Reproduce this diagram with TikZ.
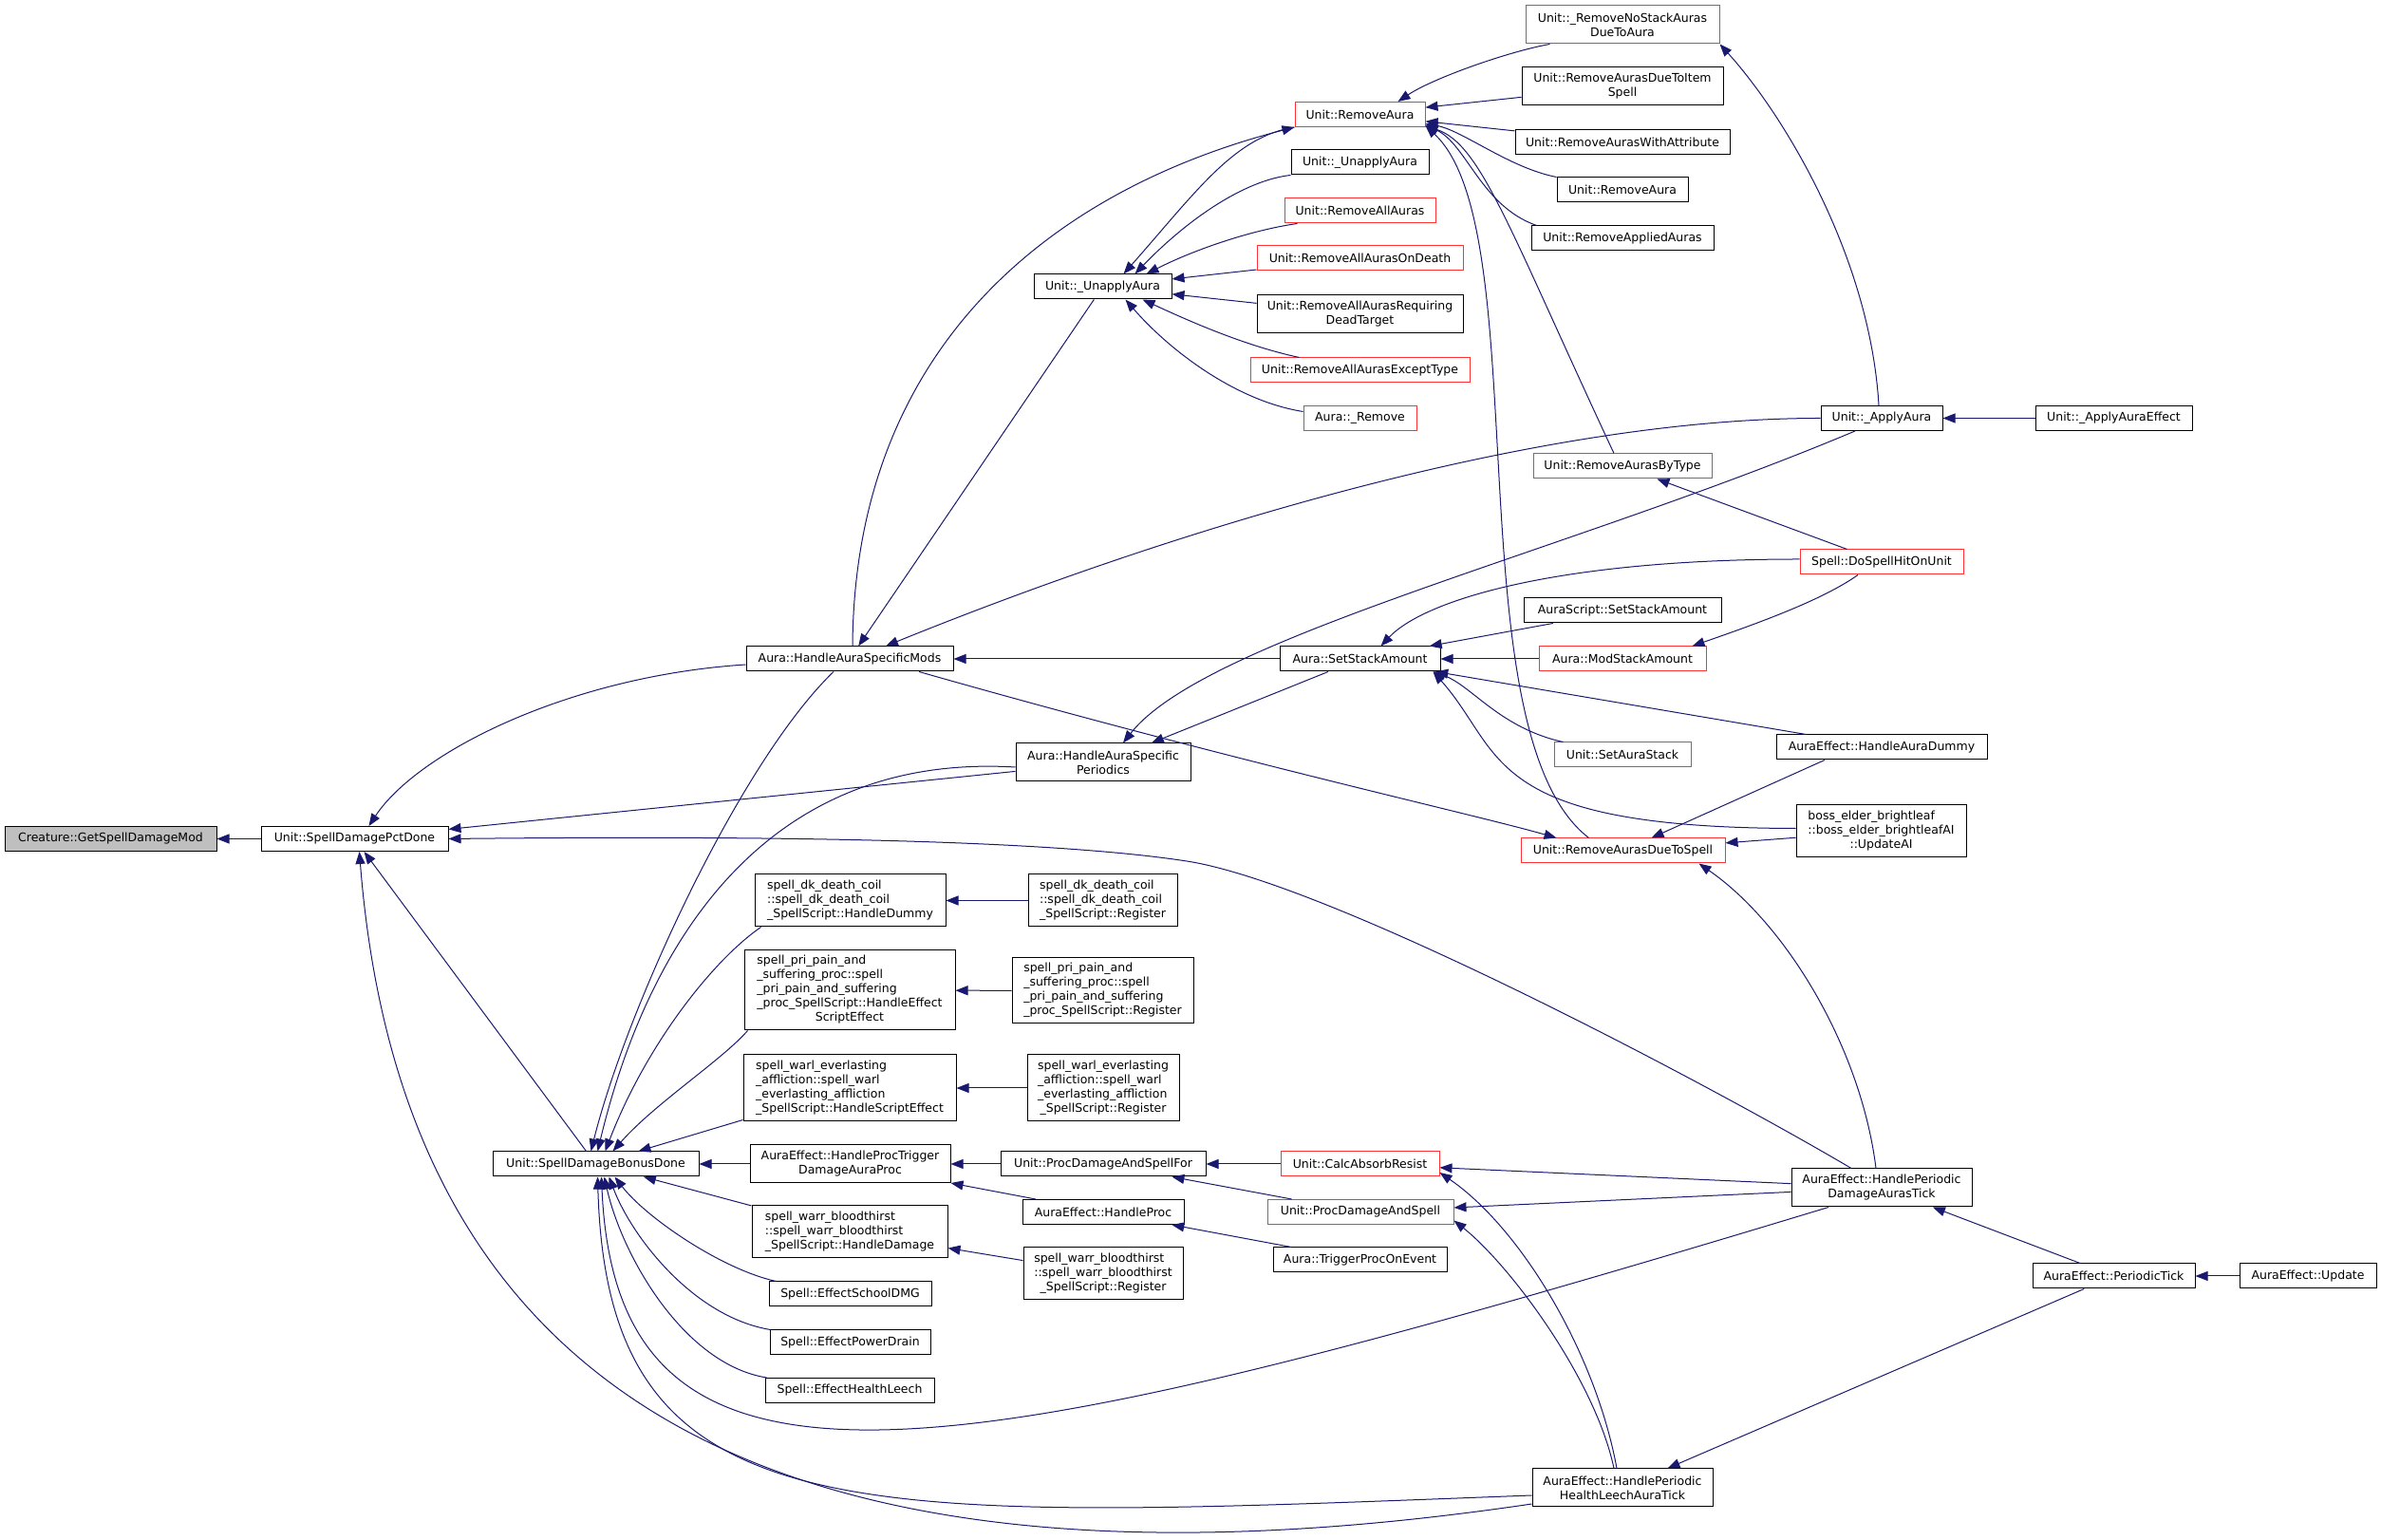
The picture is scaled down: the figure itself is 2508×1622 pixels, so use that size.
\documentclass[tikz,border=0pt]{standalone}
\usepackage{fontspec}
\setmainfont{DejaVu Sans}
\usetikzlibrary{arrows.meta}
\definecolor{edgeblue}{HTML}{191970}
\definecolor{truncred}{HTML}{FF3333}
\definecolor{startgray}{HTML}{BFBFBF}
\newcommand{\fnlines}[1]{\begin{tabular}{@{}l@{}}#1\end{tabular}}
\newcommand{\lastc}[1]{\multicolumn{1}{@{}c@{}}{#1}}

\begin{document}
\begin{tikzpicture}[x=1pt,y=1pt,<-,>={Triangle[length=13pt,width=10pt]},
    every edge/.style={draw=edgeblue,line width=1pt},
    call/.style={draw=edgeblue,line width=1pt},
    fn/.style={rectangle,draw=black,fill=white,line width=1pt,minimum height=26pt,
      inner sep=2pt,font=\fontsize{12.5}{15}\selectfont},
    trunc/.style={fn,draw=truncred},
    start/.style={fn,fill=startgray},
    two/.style={align=center,minimum height=40pt}]

\path[use as bounding box,fill=white,-] (0,0) rectangle (2508,1622);

\node[start,minimum width=223pt]   (crt)    at (116.5,738.5) {Creature::GetSpellDamageMod};
\node[fn,minimum width=197pt]      (pct)    at (373.5,738.5) {Unit::SpellDamagePctDone};
\node[fn,minimum width=217pt]      (bon)    at (627.5,396)   {Unit::SpellDamageBonusDone};
\node[fn,minimum width=218pt]      (mods)   at (895,928)     {Aura::HandleAuraSpecificMods};
\node[fn,minimum width=169pt]      (stk)    at (1432.5,928)  {Aura::SetStackAmount};
\node[fn,two,minimum width=184pt]  (per)    at (1162,819)    {Aura::HandleAuraSpecific\\Periodics};
\node[fn,minimum width=145pt]      (unap)   at (1161.5,1320) {Unit::\_UnapplyAura};

\node[fn,minimum width=201pt,minimum height=55pt] (dkh) at (895.5,673.5)
  {\fnlines{spell\_dk\_death\_coil\\::spell\_dk\_death\_coil\\\_SpellScript::HandleDummy}};
\node[fn,minimum width=157pt,minimum height=55pt] (dkr) at (1161.5,673.5)
  {\fnlines{spell\_dk\_death\_coil\\::spell\_dk\_death\_coil\\\lastc{\_SpellScript::Register}}};
\node[fn,minimum width=222pt,minimum height=84pt] (prih) at (895,579)
  {\fnlines{spell\_pri\_pain\_and\\\_suffering\_proc::spell\\\_pri\_pain\_and\_suffering\\\_proc\_SpellScript::HandleEffect\\\lastc{ScriptEffect}}};
\node[fn,minimum width=191pt,minimum height=69pt] (prir) at (1161.5,578.5)
  {\fnlines{spell\_pri\_pain\_and\\\_suffering\_proc::spell\\\_pri\_pain\_and\_suffering\\\_proc\_SpellScript::Register}};
\node[fn,minimum width=224pt,minimum height=70pt] (warlh) at (895,476)
  {\fnlines{spell\_warl\_everlasting\\\_affliction::spell\_warl\\\_everlasting\_affliction\\\_SpellScript::HandleScriptEffect}};
\node[fn,minimum width=160pt,minimum height=70pt] (warlr) at (1162,476)
  {\fnlines{spell\_warl\_everlasting\\\_affliction::spell\_warl\\\_everlasting\_affliction\\\lastc{\_SpellScript::Register}}};
\node[fn,two,minimum width=211pt]  (ptrig)  at (895.5,396)   {AuraEffect::HandleProcTrigger\\DamageAuraProc};
\node[fn,minimum width=216pt]      (pfor)   at (1162,396)    {Unit::ProcDamageAndSpellFor};
\node[trunc,minimum width=167pt]   (absorb) at (1432.5,396)  {Unit::CalcAbsorbResist};
\node[fn,minimum width=170pt]      (hproc)  at (1162,345.5)  {AuraEffect::HandleProc};
\node[trunc,minimum width=196pt]   (pdas)   at (1433,345.5)  {Unit::ProcDamageAndSpell};
\node[fn,minimum width=206pt,minimum height=55pt] (warrh) at (895,324.5)
  {\fnlines{spell\_warr\_bloodthirst\\::spell\_warr\_bloodthirst\\\_SpellScript::HandleDamage}};
\node[fn,minimum width=183pt]      (trig)   at (1432.5,295)  {Aura::TriggerProcOnEvent};
\node[fn,minimum width=168pt,minimum height=55pt] (warrr) at (1162,280.5)
  {\fnlines{spell\_warr\_bloodthirst\\::spell\_warr\_bloodthirst\\\lastc{\_SpellScript::Register}}};
\node[fn,minimum width=171pt]      (sdmg)   at (895.5,259)   {Spell::EffectSchoolDMG};
\node[fn,minimum width=169pt]      (pdrain) at (895.5,208)   {Spell::EffectPowerDrain};
\node[fn,minimum width=178pt]      (hleech) at (895,157.5)   {Spell::EffectHealthLeech};

\node[fn,two,minimum width=190pt]  (leechtick) at (1709,55)  {AuraEffect::HandlePeriodic\\HealthLeechAuraTick};
\node[fn,two,minimum width=190pt]  (dmgtick)   at (1982,371) {AuraEffect::HandlePeriodic\\DamageAurasTick};
\node[fn,minimum width=171pt]      (ptick)  at (2226.5,278)  {AuraEffect::PeriodicTick};
\node[fn,minimum width=144pt]      (upd)    at (2431,278)    {AuraEffect::Update};

\node[trunc,two,minimum width=204pt] (nostack) at (1709,1596) {Unit::\_RemoveNoStackAuras\\DueToAura};
\node[fn,two,minimum width=212pt]  (itemsp) at (1709,1531)   {Unit::RemoveAurasDueToItem\\Spell};
\node[trunc,minimum width=137pt]   (rma)    at (1432.5,1501.5) {Unit::RemoveAura};
\node[fn,minimum width=226pt]      (attr)   at (1709,1472)   {Unit::RemoveAurasWithAttribute};
\node[fn,minimum width=145pt]      (unap2)  at (1432.5,1451) {Unit::\_UnapplyAura};
\node[fn,minimum width=138pt]      (rma2)   at (1709,1422)   {Unit::RemoveAura};
\node[trunc,minimum width=159pt]   (rmall)  at (1432.5,1400) {Unit::RemoveAllAuras};
\node[fn,minimum width=192pt]      (applied) at (1709,1371)  {Unit::RemoveAppliedAuras};
\node[trunc,minimum width=217pt]   (death)  at (1432.5,1350) {Unit::RemoveAllAurasOnDeath};
\node[fn,two,minimum width=217pt]  (dead)   at (1432.5,1291) {Unit::RemoveAllAurasRequiring\\DeadTarget};
\node[trunc,minimum width=231pt]   (except) at (1432.5,1232) {Unit::RemoveAllAurasExceptType};
\node[trunc,minimum width=119pt]   (arem)   at (1432.5,1181.5) {Aura::\_Remove};
\node[fn,minimum width=128pt]      (apply)  at (1982,1181.5) {Unit::\_ApplyAura};
\node[fn,minimum width=165pt]      (applyeff) at (2226.5,1181.5) {Unit::\_ApplyAuraEffect};
\node[trunc,minimum width=188pt]   (bytype) at (1709,1131)   {Unit::RemoveAurasByType};
\node[trunc,minimum width=172pt]   (hit)    at (1982,1030)   {Spell::DoSpellHitOnUnit};
\node[fn,minimum width=208pt]      (ascr)   at (1709,979)    {AuraScript::SetStackAmount};
\node[trunc,minimum width=176pt]   (mod)    at (1709,928)    {Aura::ModStackAmount};
\node[trunc,minimum width=144pt]   (setst)  at (1709,827)    {Unit::SetAuraStack};
\node[fn,minimum width=222pt]      (dummy)  at (1982,835)    {AuraEffect::HandleAuraDummy};
\node[fn,minimum width=179pt,minimum height=55pt] (boss) at (1981.5,746.5)
  {\fnlines{boss\_elder\_brightleaf\\::boss\_elder\_brightleafAI\\\lastc{::UpdateAI}}};
\node[trunc,minimum width=215pt]   (dts)    at (1709.5,726)  {Unit::RemoveAurasDueToSpell};

% straight calls, arrow at the callee
\path (crt) edge (pct)
      (pct) edge (per)
      (pct) edge (bon)
      (mods) edge (stk)
      (mods) edge (unap)
      (bon) edge (warlh)
      (bon) edge (ptrig)
      (bon) edge (warrh)
      (unap) edge (death)
      (unap) edge (dead)
      (rma) edge (itemsp)
      (rma) edge (attr)
      (stk) edge (ascr)
      (stk) edge (mod)
      (stk) edge (dummy)
      (per) edge (stk)
      (apply) edge (applyeff)
      (bytype) edge (hit)
      (dts) edge ([xshift=-60pt]dummy.south)
      (dts) edge (boss)
      (dmgtick) edge (ptick)
      (ptick) edge (upd)
      (leechtick) edge (ptick)
      (absorb) edge (dmgtick)
      (pdas) edge (dmgtick)
      (ptrig) edge (pfor)
      (ptrig) edge (hproc)
      (pfor) edge (absorb)
      (pfor) edge (pdas)
      (hproc) edge (trig)
      (warrh) edge (warrr)
      (dkh) edge (dkr)
      (prih) edge (prir)
      (warlh) edge (warlr);

% curved calls
\draw[call] ([xshift=15pt]pct.north) .. controls (440,830) and (600,910) .. ([yshift=-6pt]mods.west);
\draw[call] (pct.east) .. controls (800,742) and (1100,738) .. (1250,715)
            .. controls (1400,692) and (1800,480) .. ([xshift=-32pt]dmgtick.north);
\draw[call] ([xshift=5pt]pct.south) .. controls (420,200) and (750,-90) .. ([yshift=-17pt]leechtick.west);
\draw[call] ([xshift=-5pt]bon.north) .. controls (660,560) and (780,820) .. ([xshift=-17pt]mods.south);
\draw[call] ([xshift=2pt]bon.north) .. controls (680,620) and (800,830) .. ([yshift=-5pt]per.west);
\draw[call] ([xshift=10pt]bon.north) .. controls (680,520) and (750,610) .. ([xshift=7pt]dkh.south west);
\draw[call] ([xshift=18pt]bon.north) .. controls (690,460) and (760,505) .. ([xshift=4pt]prih.south west);
\draw[call] ([xshift=20pt]bon.south) .. controls (680,340) and (760,285) .. ([xshift=8pt]sdmg.north west);
\draw[call] ([xshift=14pt]bon.south) .. controls (665,320) and (730,235) .. ([xshift=1pt]pdrain.north west);
\draw[call] ([xshift=9pt]bon.south) .. controls (655,300) and (720,185) .. ([xshift=2pt]hleech.north west);
\draw[call] ([xshift=6pt]bon.south) .. controls (650,0) and (1000,70) .. ([xshift=-56pt]dmgtick.south);
\draw[call] ([xshift=2pt]bon.south) .. controls (640,0) and (900,20) .. ([yshift=-8pt]leechtick.west);
\draw[call] ([xshift=38pt]mods.north) .. controls (1200,1050) and (1600,1181.5) .. (apply.west);
\draw[call] (rma.south west) .. controls (1100,1420) and (900,1250) .. ([xshift=3pt]mods.north);
\draw[call] ([xshift=22pt]unap.north) .. controls (1260,1420) and (1300,1478) .. (rma.south west);
\draw[call] ([xshift=34pt]unap.north) .. controls (1250,1390) and (1310,1432) .. (unap2.south west);
\draw[call] ([xshift=46pt]unap.north) .. controls (1260,1360) and (1320,1380) .. ([xshift=14pt]rmall.south west);
\draw[call] ([xshift=42pt]unap.south) .. controls (1250,1285) and (1310,1258) .. ([xshift=52pt]except.north west);
\draw[call] ([xshift=24pt]unap.south) .. controls (1230,1255) and (1300,1200) .. ([yshift=7pt]arem.west);
\draw[call] ([xshift=40pt]rma.north) .. controls (1510,1540) and (1590,1568) .. ([xshift=26pt]nostack.south west);
\draw[call] ([yshift=-10pt]rma.east) .. controls (1540,1485) and (1590,1445) .. (rma2.north west);
\draw[call] ([yshift=-11pt]rma.east) .. controls (1545,1470) and (1560,1405) .. ([xshift=6pt]applied.north west);
\draw[call] ([yshift=-12pt]rma.east) .. controls (1560,1470) and (1590,1380) .. ([xshift=-9pt]bytype.north);
\draw[call] ([yshift=-12pt]rma.east) .. controls (1620,1380) and (1530,850) .. ([xshift=-36pt]dts.north);
\draw[call] ([xshift=22pt]stk.north) .. controls (1500,990) and (1640,1033) .. ([yshift=3pt]hit.west);
\draw[call] ([xshift=-8pt]stk.south east) .. controls (1550,900) and (1580,855) .. ([xshift=10pt]setst.north west);
\draw[call] ([xshift=-8pt]stk.south east) .. controls (1585,830) and (1560,750) .. ([yshift=3pt]boss.west);
\draw[call] ([xshift=-70pt]dts.north) .. controls (1550,765) and (1300,820) .. ([xshift=73pt]mods.south);
\draw[call] ([xshift=-28pt]dts.south east) .. controls (1880,650) and (1960,520) .. ([xshift=-6pt]dmgtick.north);
\draw[call] ([xshift=-15pt]mod.north east) .. controls (1850,965) and (1920,990) .. ([xshift=-25pt]hit.south);
\draw[call] (nostack.south east) .. controls (1880,1500) and (1970,1350) .. ([xshift=-3pt]apply.north);
\draw[call] ([xshift=21pt]per.north) .. controls (1270,950) and (1650,1040) .. ([xshift=-28pt]apply.south);
\draw[call] ([yshift=-9pt]absorb.east) .. controls (1600,330) and (1680,200) .. ([xshift=-6pt]leechtick.north);
\draw[call] ([yshift=-9pt]pdas.east) .. controls (1590,290) and (1680,170) .. ([xshift=-9pt]leechtick.north);
\end{tikzpicture}
\end{document}
